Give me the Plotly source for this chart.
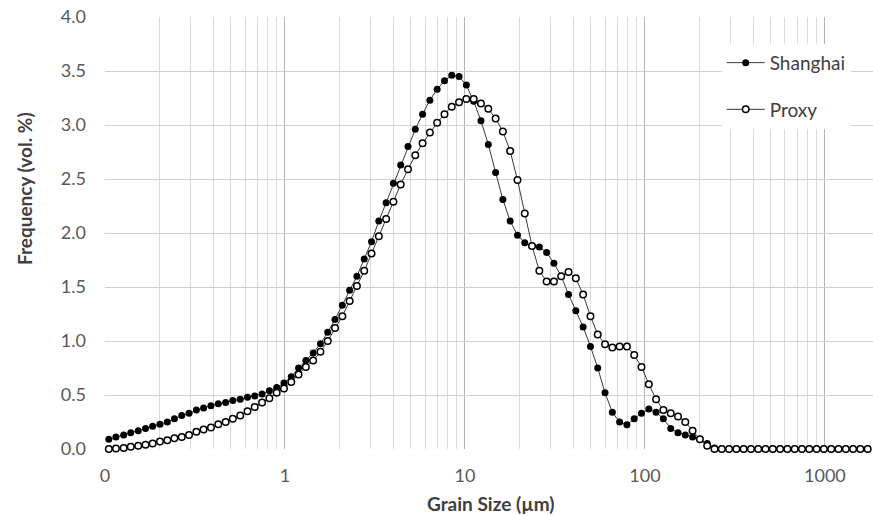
import math
import plotly.graph_objects as go

# Grain size channels (µm)
grain_size = [
    0.105, 0.115, 0.127, 0.139, 0.153, 0.168, 0.184, 0.202, 0.222, 0.243,
    0.267, 0.293, 0.322, 0.353, 0.388, 0.426, 0.468, 0.513, 0.564, 0.619,
    0.679, 0.746, 0.819, 0.899, 0.987, 1.084, 1.19, 1.306, 1.434, 1.574,
    1.728, 1.897, 2.083, 2.287, 2.510, 2.756, 3.026, 3.322, 3.647, 4.004,
    4.395, 4.825, 5.297, 5.815, 6.384, 7.008, 7.695, 8.448, 9.274, 10.18,
    11.18, 12.27, 13.48, 14.80, 16.24, 17.83, 19.58, 21.49, 23.59, 25.90,
    28.43, 31.21, 34.27, 37.62, 41.30, 45.34, 49.80, 54.67, 60.02, 65.89,
    72.33, 79.41, 87.17, 95.69, 105.1, 115.3, 126.6, 139.1, 152.7, 167.6,
    184.0, 202.0, 221.8, 243.5, 267.3, 293.4, 322.1, 353.5, 388.1, 426.0,
    467.7, 513.4, 563.7, 618.8, 679.3, 745.7, 818.7, 899.2, 987.1, 1084,
    1190, 1306, 1434, 1574, 1728,
]

shanghai = [
    0.09, 0.11, 0.13, 0.15, 0.17, 0.19, 0.21, 0.23, 0.25, 0.28,
    0.31, 0.33, 0.36, 0.38, 0.40, 0.42, 0.43, 0.45, 0.46, 0.48,
    0.49, 0.51, 0.54, 0.57, 0.61, 0.67, 0.75, 0.82, 0.89, 0.975,
    1.08, 1.20, 1.33, 1.47, 1.60, 1.76, 1.92, 2.11, 2.28, 2.46,
    2.63, 2.80, 2.96, 3.10, 3.23, 3.33, 3.41, 3.46, 3.45, 3.37,
    3.22, 3.04, 2.82, 2.56, 2.31, 2.11, 1.98, 1.91, 1.88, 1.87,
    1.82, 1.72, 1.60, 1.43, 1.28, 1.13, 0.95, 0.75, 0.52, 0.34,
    0.25, 0.225, 0.28, 0.33, 0.37, 0.34, 0.28, 0.19, 0.15, 0.13,
    0.11, 0.09, 0.05, 0.01, 0.0, 0.0, 0.0, 0.0, 0.0, 0.0,
    0.0, 0.0, 0.0, 0.0, 0.0, 0.0, 0.0, 0.0, 0.0, 0.0,
    0.0, 0.0, 0.0, 0.0, 0.0,
]

proxy = [
    0.00, 0.005, 0.01, 0.02, 0.03, 0.04, 0.05, 0.07, 0.08, 0.10,
    0.11, 0.13, 0.16, 0.18, 0.20, 0.23, 0.25, 0.28, 0.31, 0.35,
    0.39, 0.43, 0.47, 0.52, 0.56, 0.62, 0.69, 0.76, 0.82, 0.90,
    1.00, 1.12, 1.23, 1.37, 1.51, 1.65, 1.81, 1.97, 2.13, 2.29,
    2.45, 2.59, 2.72, 2.83, 2.93, 3.02, 3.10, 3.17, 3.21, 3.24,
    3.24, 3.20, 3.15, 3.06, 2.94, 2.76, 2.49, 2.18, 1.88, 1.65,
    1.55, 1.55, 1.60, 1.64, 1.58, 1.43, 1.23, 1.06, 0.97, 0.94,
    0.95, 0.95, 0.87, 0.76, 0.60, 0.46, 0.36, 0.33, 0.30, 0.25,
    0.17, 0.09, 0.03, 0.0, 0.0, 0.0, 0.0, 0.0, 0.0, 0.0,
    0.0, 0.0, 0.0, 0.0, 0.0, 0.0, 0.0, 0.0, 0.0, 0.0,
    0.0, 0.0, 0.0, 0.0, 0.0,
]

x_tickvals = [0.1, 1, 10, 100, 1000]
x_ticktext = ["0", "1", "10", "100", "1000"]

FONT = "Lato, 'Liberation Sans', sans-serif"

fig = go.Figure()
fig.add_trace(go.Scatter(
    x=grain_size, y=shanghai, name="Shanghai", mode="lines+markers",
    line=dict(color="#3a3a3a", width=1),
    marker=dict(symbol="circle", size=7, color="black"),
    legendgroup="s", cliponaxis=False,
))
fig.add_trace(go.Scatter(
    x=grain_size, y=proxy, name="Proxy", mode="lines+markers",
    line=dict(color="#3a3a3a", width=1),
    marker=dict(symbol="circle", size=6.5, color="white",
                line=dict(color="black", width=1.5)),
    legendgroup="p", cliponaxis=False,
))

fig.update_layout(
    width=873, height=516,
    margin=dict(l=105, r=0, t=17, b=67),
    paper_bgcolor="white", plot_bgcolor="white",
    font=dict(family=FONT, size=18, color="#595959"),
    showlegend=True,
    legend=dict(
        x=0.803, y=0.938, xanchor="left", yanchor="top",
        bgcolor="white", font=dict(size=19, color="#404040"),
        tracegroupgap=19, traceorder="grouped", itemwidth=38,
    ),
    xaxis=dict(
        type="log", range=[-1, math.log10(1850)],
        tickmode="array", tickvals=x_tickvals, ticktext=x_ticktext,
        showgrid=True, gridcolor="#b4b4b4", gridwidth=1,
        zeroline=False, showline=False, ticks="",
        ticklabelstandoff=14,
        minor=dict(dtick="D1", showgrid=True, gridcolor="#dadada", gridwidth=1),
    ),
    yaxis=dict(
        range=[0, 4.0], dtick=0.5, tickformat=".1f",
        showgrid=True, gridcolor="#d0d0d0", gridwidth=1,
        zeroline=False, showline=False, ticks="",
        ticklabelstandoff=18,
    ),
    annotations=[
        dict(text="<b>Grain Size (µm)</b>", xref="paper", yref="paper",
             x=0.503, y=-0.125, xanchor="center", yanchor="middle",
             showarrow=False, font=dict(size=19, color="#404040", family=FONT)),
        dict(text="<b>Frequency (vol. %)</b>", xref="paper", yref="paper",
             x=-0.104, y=0.602, xanchor="center", yanchor="middle",
             textangle=-90, showarrow=False,
             font=dict(size=19, color="#404040", family=FONT)),
    ],
)

fig.write_html("out.html", config={"displayModeBar": False},
               post_script="document.body.style.margin='0';")
